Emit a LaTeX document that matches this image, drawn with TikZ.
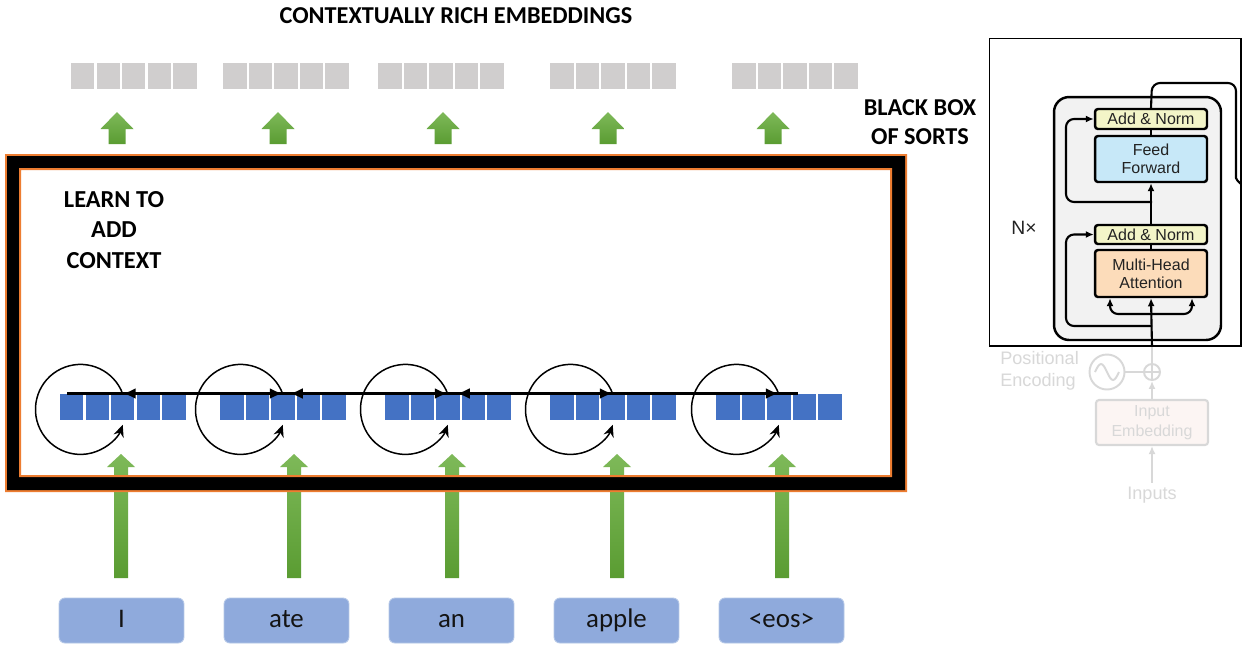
\documentclass[tikz,border=0pt]{standalone}
\usepackage{fontspec}
\setmainfont{Carlito}
\newfontfamily\helv{Liberation Sans}
\usetikzlibrary{arrows.meta,calc}
\definecolor{frameorange}{RGB}{237,125,49}
\definecolor{tokblue}{RGB}{68,114,196}
\definecolor{embgray}{RGB}{208,206,206}
\definecolor{wordblue}{RGB}{143,170,220}
\definecolor{wordedge}{RGB}{180,199,231}
\definecolor{gtop}{RGB}{126,185,89}
\definecolor{gbot}{RGB}{90,156,50}
\definecolor{addnorm}{RGB}{243,245,200}
\definecolor{ffblue}{RGB}{199,232,248}
\definecolor{mhapeach}{RGB}{252,220,186}
\definecolor{blockgray}{RGB}{242,242,242}
\definecolor{fadegray}{RGB}{216,216,216}
\definecolor{fadefill}{RGB}{252,245,243}
\definecolor{paneltext}{RGB}{35,35,35}
\tikzset{
  bsq/.style={rectangle, fill=tokblue, minimum width=0.47cm, minimum height=0.52cm, inner sep=0pt, outer sep=0pt},
  gsq/.style={rectangle, fill=embgray, minimum width=0.47cm, minimum height=0.52cm, inner sep=0pt, outer sep=0pt},
  word/.style={rectangle, rounded corners=0.12cm, fill=wordblue, draw=wordedge, line width=0.5pt, minimum width=2.5cm, minimum height=0.9cm, font=\fontsize{15.3}{18}\selectfont, text=black!92, text height=11pt, text depth=2.5pt},
  lbl/.style={font=\bfseries\fontsize{13.8}{17}\selectfont, align=center, inner sep=0pt},
  hl/.style={line width=1.9pt},
  hlarrow/.style={line width=1.9pt, -{Latex[length=0.26cm,width=0.22cm]}},
  lp/.style={line width=0.85pt, -{Stealth[length=0.24cm,width=0.21cm]}},
  tbox/.style={draw=black, line width=1.4pt, rounded corners=0.06cm, minimum width=2.24cm, inner sep=0pt, font=\helv\fontsize{9.1}{10.4}\selectfont, text=paneltext, align=center},
  pline/.style={line width=1.2pt, rounded corners=0.16cm},
  parrow/.style={line width=1.2pt, rounded corners=0.16cm, -{Latex[length=0.16cm,width=0.14cm]}},
  fline/.style={draw=fadegray, line width=1.1pt},
  farrow/.style={draw=fadegray, line width=1.1pt, -{Latex[length=0.16cm,width=0.14cm]}},
  ftext/.style={text=fadegray, font=\helv\fontsize{10.3}{12.4}\selectfont, inner sep=0pt}
}
\begin{document}
\begin{tikzpicture}[x=0.02cm,y=-0.02cm]
\useasboundingbox (0,0) rectangle (1250,654);
\fill[white] (0,0) rectangle (1250,654);

% title
\node[lbl] (title) at (456,16) {CONTEXTUALLY RICH EMBEDDINGS};

% top gray embeddings
\foreach \g/\x in {1/71,2/223,3/378,4/550,5/732} {
  \foreach \i in {0,...,4} {
    \node[gsq] (e\g-\i) at ({\x+11.75+25.5*\i},76) {};
  }
}

% small green arrows
\foreach \c in {117,278,443,608,773} {
  \shade[top color=gtop,bottom color=gbot] (\c,112) -- ({\c+16.5},129) -- ({\c+8.5},129) -- ({\c+8.5},144) -- ({\c-8.5},144) -- ({\c-8.5},129) -- ({\c-16.5},129) -- cycle;
}

% tall green arrows (under the frame)
\foreach \c in {121,294,452,617,782} {
  \shade[top color=gtop,bottom color=gbot] (\c,454) -- ({\c+14},467) -- ({\c+7},467) -- ({\c+7},578) -- ({\c-7},578) -- ({\c-7},467) -- ({\c-14},467) -- cycle;
}

% frame
\fill[frameorange, even odd rule] (5,154) rectangle (907,492) (7,156) rectangle (905,490);
\fill[black, even odd rule] (7,156) rectangle (905,490) (19,168) rectangle (892,477);
\fill[frameorange, even odd rule] (19,168) rectangle (892,477) (21,170) rectangle (890,475);

\node[lbl, font=\bfseries\fontsize{13.9}{17.2}\selectfont] (learn) at (114,230) {LEARN TO\\ADD\\CONTEXT};
\node[lbl, font=\bfseries\fontsize{13.8}{16.4}\selectfont] (bbox) at (920,122.5) {BLACK BOX\\OF SORTS};

% blue token vectors
\foreach \g/\x in {1/60,2/220,3/385,4/550,5/716} {
  \foreach \i in {0,...,4} {
    \node[bsq] (b\g-\i) at ({\x+11.75+25.5*\i},407) {};
  }
}

% self loops
\foreach \g in {1,...,5} {
  \draw[lp] (b\g-2.north) arc[start angle=20, end angle=340, radius=0.9cm];
}

% horizontal attention line
\coordinate (hlL) at (67,393.5);
\coordinate (hlR) at (798,393.5);
\draw[hl] (hlL) -- (hlR);
\draw[hlarrow] ($(b1-2.north)+(30,-0.5)$) -- ($(b1-2.north)+(0,-0.5)$);
\draw[hlarrow] ($(b2-2.north)+(37,-0.5)$) -- ($(b2-2.north)+(7,-0.5)$);
\draw[hlarrow] ($(b3-2.north)+(39,-0.5)$) -- ($(b3-2.north)+(9,-0.5)$);
\foreach \g in {2,...,5} {
  \draw[hlarrow] ($(b\g-2.north)+(-30,-0.5)$) -- ($(b\g-2.north)+(0,-0.5)$);
}

% words
\node[word] (w1) at (121.5,620.5) {I};
\node[word] (w2) at (286.5,620.5) {ate};
\node[word] (w3) at (451.5,620.5) {an};
\node[word] (w4) at (616.5,620.5) {apple};
\node[word] (w5) at (781.5,620.5) {<eos>};

% ---------- right panel ----------
\node[draw=black, line width=0.6pt, minimum width=5.04cm, minimum height=6.16cm, inner sep=0pt] (panel) at (1115,192) {};
\node[draw=black, fill=blockgray, line width=1.4pt, rounded corners=0.3cm, minimum width=3.34cm, minimum height=4.86cm, inner sep=0pt] (blk) at (1137.5,218.5) {};
\node[tbox, fill=addnorm, minimum height=0.4cm] (an1) at (1151,119) {Add \& Norm};
\node[tbox, fill=ffblue, minimum height=0.92cm] (ff) at (1151,159) {Feed\\Forward};
\node[tbox, fill=addnorm, minimum height=0.38cm] (an2) at (1151,234.5) {Add \& Norm};
\node[tbox, fill=mhapeach, minimum height=0.94cm] (mha) at (1151,273.5) {Multi-Head\\Attention};
\node[font=\helv\fontsize{11}{13}\selectfont, text=paneltext, inner sep=0pt] (nx) at (1024,228) {N×};

\coordinate (mainbot) at (1152,347);
\coordinate (split) at (1152,314);
\coordinate (res1) at (1152,326);
\coordinate (res2) at (1152,202);
\draw[parrow] (mainbot) -- (mha.south);
\draw[parrow] (split) -- (1110,314) -- (mha.south -| 1110,0);
\draw[parrow] (split) -- (1192,314) -- (mha.south -| 1192,0);
\draw[pline] (mha.north) -- (an2.south);
\draw[parrow] (res1) -- (1066,326) -- (1066,234.5) -- (an2.west);
\draw[parrow] (an2.north) -- (ff.south);
\draw[pline] (ff.north) -- (an1.south);
\draw[parrow] (res2) -- (1066,202) -- (1066,119) -- (an1.west);
\begin{scope}
  \clip (panel.north west) rectangle (panel.south east);
  \draw[pline] (an1.north) -- (1152,83) -- (1236,83) -- (1236,170) to[out=-90,in=180] (1252,188);
\end{scope}

% faded part below
\node[circle, fline, minimum size=0.32cm, inner sep=0pt] (plus) at (1152,372) {};
\draw[fline] (plus.north) -- (plus.south) (plus.west) -- (plus.east);
\node[circle, fline, minimum size=0.7cm, inner sep=0pt] (pe) at (1107,372) {};
\draw[fline] ($(pe.center)+(-12,0)$) sin ($(pe.center)+(-6,-8)$) cos (pe.center) sin ($(pe.center)+(6,8)$) cos ($(pe.center)+(12,0)$);
\draw[fline] (pe.east) -- (plus.west);
\draw[fline] (mainbot) -- (plus.north);
\node[ftext, anchor=west, align=left] (posenc) at (1000,370.5) {Positional\\Encoding};
\node[draw=fadegray, fill=fadefill, line width=1.2pt, rounded corners=0.06cm, minimum width=2.24cm, minimum height=0.9cm, inner sep=0pt, align=center, text=fadegray, font=\helv\fontsize{9.1}{11.4}\selectfont] (emb) at (1152,422.5) {Input\\Embedding};
\draw[farrow] (emb.north) -- (plus.south);
\node[ftext] (inp) at (1152,495) {Inputs};
\draw[farrow] ($(inp.north)+(0,-4)$) -- (emb.south);
\end{tikzpicture}
\end{document}
